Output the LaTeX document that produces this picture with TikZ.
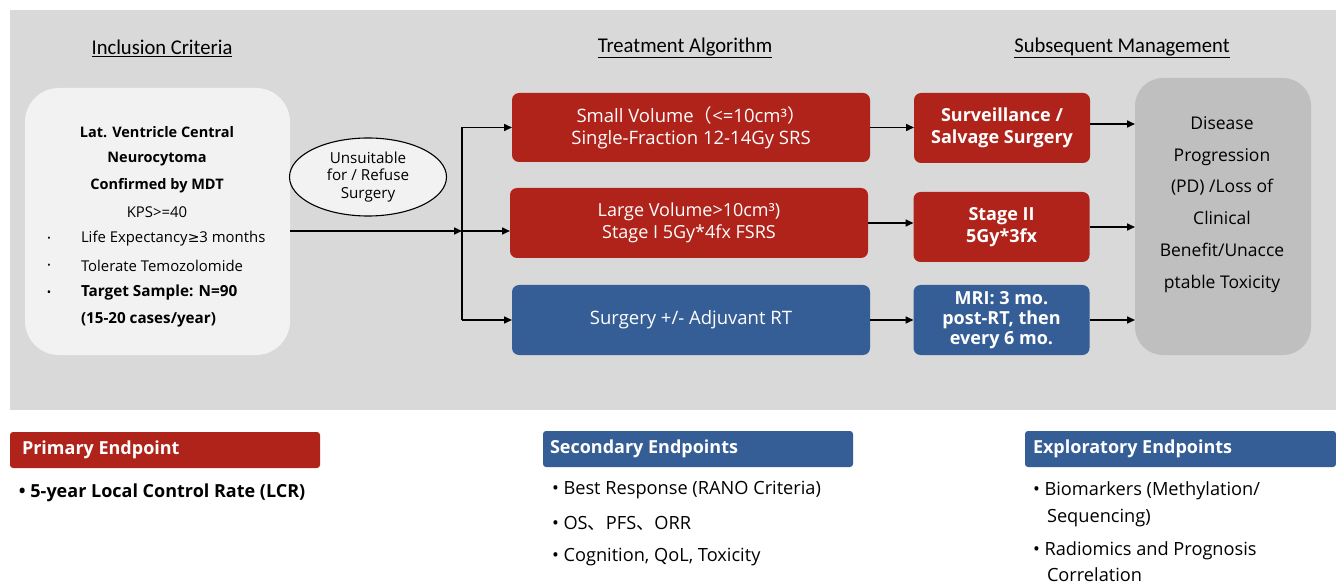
\documentclass[tikz,border=0pt]{standalone}
\usepackage{fontspec}
\setmainfont{Open Sans}
\newfontfamily\cjk{Noto Sans CJK SC}
\newfontfamily\symfont{DejaVu Sans}
\newfontfamily\narrowfont{Carlito}
\usetikzlibrary{arrows.meta,shapes.geometric,calc}
\definecolor{bgGray}{HTML}{D9D9D9}
\definecolor{paleGray}{HTML}{F2F2F2}
\definecolor{midGray}{HTML}{BFBFBF}
\definecolor{armRed}{HTML}{B0231A}
\definecolor{armBlue}{HTML}{365E96}
\begin{document}
\begin{tikzpicture}[x=1pt,y=-1pt,
  every node/.style={inner sep=0pt,outer sep=0pt},
  colhead/.style={font=\narrowfont\fontsize{21}{24}\selectfont},
  incltxt/.style={font=\fontsize{14.9}{17}\selectfont,anchor=west},
  inclbold/.style={font=\bfseries\fontsize{14.5}{17}\selectfont},
  armbox/.style={rounded corners=7pt,text=white,align=center,
    font=\fontsize{18.5}{22}\selectfont},
  redarm/.style={armbox,fill=armRed},
  bluearm/.style={armbox,fill=armBlue},
  nextbox/.style={rounded corners=7pt,text=white,align=center,
    font=\bfseries\fontsize{18}{22.5}\selectfont,
    minimum width=176pt,minimum height=70pt},
  endhead/.style={rounded corners=3pt,anchor=north west,
    minimum width=310pt,minimum height=36pt},
  endlabel/.style={anchor=west,text=white,font=\bfseries\fontsize{18}{20}\selectfont},
  endtxt/.style={anchor=west,font=\fontsize{18.2}{20}\selectfont},
  link/.style={line width=1.6pt},
  arr/.style={link,-{Triangle[length=8pt,width=7pt]}}]
\useasboundingbox (0,0) rectangle (1336,585);
\fill[white] (0,0) rectangle (1336,585);
% upper panel
\fill[bgGray] (10,10) rectangle (1336,410);

% column titles
\node[colhead] (h1) at (162,48) {\scalebox{0.98}[1]{\underline{Inclusion Criteria}}};
\node[colhead] (h2) at (685,48) {\scalebox{0.98}[1]{\underline{Treatment Algorithm}}};
\node[colhead] (h3) at (1122,48) {\scalebox{0.98}[1]{\underline{Subsequent Management}}};

% inclusion criteria box
\node[fill=paleGray,rounded corners=34pt,minimum width=265pt,minimum height=267pt]
  (incl) at (157.5,221.5) {};
\node[inclbold] (i1) at (157,132) {Lat. Ventricle Central};
\node[inclbold] (i2) at (157,159) {Neurocytoma};
\node[inclbold] (i3) at (157,186) {Confirmed by MDT};
\node[font=\fontsize{14.9}{17}\selectfont] (i4) at (157,212) {KPS>=40};
\node[font=\fontsize{9}{10}\selectfont] (b1) at (49,239) {•};
\node[font=\fontsize{9}{10}\selectfont] (b2) at (49,266) {•};
\node[font=\bfseries\fontsize{9}{10}\selectfont] (b3) at (49,293) {•};
\node[incltxt] (i5) at (81,239) {Life Expectancy{\symfont\fontsize{14}{17}\selectfont ≥}3 months};
\node[incltxt] (i6) at (81,266) {Tolerate Temozolomide};
\node[incltxt,font=\bfseries\fontsize{15.3}{17}\selectfont] (i7) at (81,293) {Target Sample: N=90};
\node[incltxt,font=\bfseries\fontsize{15.2}{17}\selectfont] (i8) at (81,320) {(15-20 cases/year)};

% decision ellipse
\node[ellipse,draw=black,line width=1.1pt,fill=paleGray,minimum width=157pt,minimum height=78pt,
  align=center,font=\fontsize{15.2}{17.5}\selectfont] (unfit) at (368,177)
  {Unsuitable\\for / Refuse\\Surgery};

% treatment arms
\node[redarm,minimum width=358pt,minimum height=69pt] (small) at (691,127.5)
  {Small Volume{\cjk（}<=10cm³{\cjk）}\\Single-Fraction 12-14Gy SRS};
\node[redarm,minimum width=358pt,minimum height=70pt,font=\fontsize{18}{22}\selectfont] (large) at (689,223)
  {Large Volume>10cm³)\\Stage I 5Gy*4fx FSRS};
\node[bluearm,minimum width=358pt,minimum height=70pt] (surg) at (691,320)
  {Surgery +/- Adjuvant RT};

% follow-up steps
\node[nextbox,fill=armRed] (salv) at (1002,128) {Surveillance /\\Salvage Surgery};
\node[nextbox,fill=armRed] (stage2) at (1001.5,227) {Stage II\\5Gy*3fx};
\node[nextbox,fill=armBlue,font=\bfseries\fontsize{18}{20}\selectfont] (mri) at (1001.5,320)
  {MRI: 3 mo.\\post-RT, then\\every 6 mo.};

% outcome box
\node[fill=midGray,rounded corners=28pt,minimum width=176pt,minimum height=277pt] (pd) at (1223,216.5) {};
\node[align=center,font=\fontsize{17.5}{31.8}\selectfont] (pdtxt) at (1222,204.5)
  {Disease\\Progression\\(PD) /Loss of\\Clinical\\Benefit/Unacce\\ptable Toxicity};

% connectors
\coordinate (jn) at (462,231);
\draw[arr] (incl.east |- jn) -- (jn);
\draw[link] (jn |- small) -- (jn |- surg);
\draw[arr] (jn |- small) -- (small.west);
\draw[arr] (jn) -- (jn -| large.west);
\draw[arr] (jn |- surg) -- (surg.west);
\draw[arr] (small.east) -- (small.east -| salv.west);
\draw[arr] (large.east) -- (large.east -| stage2.west);
\draw[arr] (surg.east) -- (surg.east -| mri.west);
\draw[arr] ($(salv.east)+(0,-4)$) -- ($(salv.east -| pd.west)+(0,-4)$);
\draw[arr] (stage2.east) -- (stage2.east -| pd.west);
\draw[arr] (mri.east) -- (mri.east -| pd.west);

% endpoints
\node[endhead,fill=armRed] (prim) at (10,432) {};
\node[endlabel] (primt) at (22,450) {Primary Endpoint};
\node[endtxt,font=\bfseries\fontsize{18}{20}\selectfont] (p1) at (19,493) {• 5-year Local Control Rate (LCR)};

\node[endhead,fill=armBlue] (sec) at (543,431) {};
\node[endlabel] (sect) at (550,449) {Secondary Endpoints};
\node[endtxt] (s1) at (552,490) {• Best Response (RANO Criteria)};
\node[endtxt] (s2) at (552,523) {• OS{\cjk 、}PFS{\cjk 、}ORR};
\node[endtxt] (s3) at (552,557) {• Cognition, QoL, Toxicity};

\node[endhead,fill=armBlue,minimum width=311pt] (expl) at (1025,431) {};
\node[endlabel] (explt) at (1033,449) {Exploratory Endpoints};
\node[endtxt] (e1) at (1033,491) {• Biomarkers (Methylation/};
\node[endtxt] (e2) at (1047,518) {Sequencing)};
\node[endtxt] (e3) at (1033,551) {• Radiomics and Prognosis};
\node[endtxt] (e4) at (1047,575) {Correlation};
\end{tikzpicture}
\end{document}
